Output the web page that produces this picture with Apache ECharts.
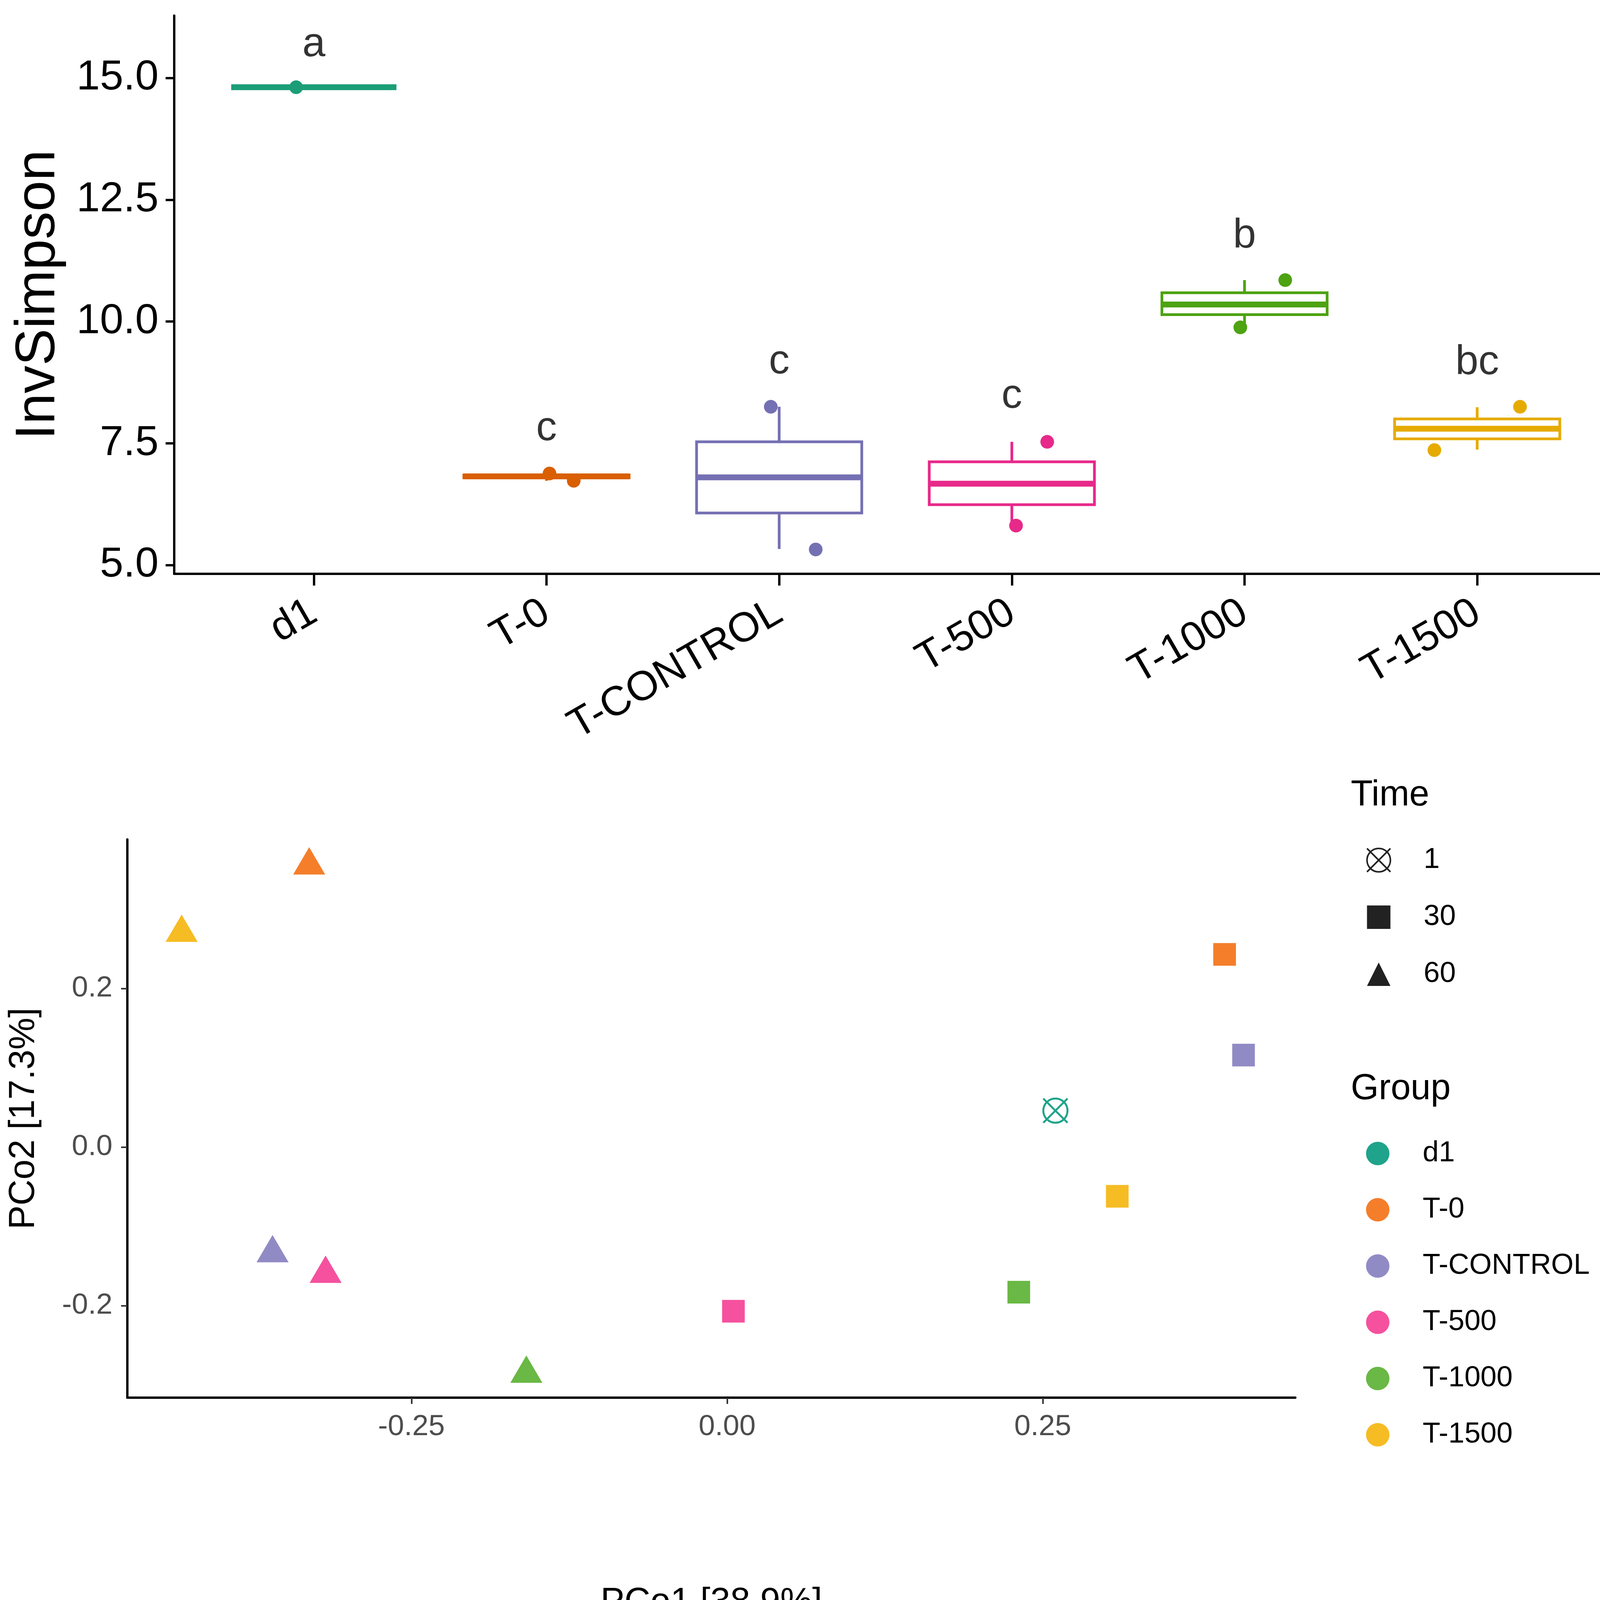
<!DOCTYPE html>
<html>
<head>
<meta charset="utf-8">
<script src="https://cdn.jsdelivr.net/npm/echarts@6/dist/echarts.min.js"></script>
<style>
  html, body { margin: 0; padding: 0; background: #fff; }
  #main { width: 4189px; height: 4180px; }
</style>
</head>
<body>
<div id="main"></div>
<script>
// ---- data: top panel (InvSimpson boxplots) ----
var groups = ['d1', 'T-0', 'T-CONTROL', 'T-500', 'T-1000', 'T-1500'];
var boxMin    = [14.81, 6.73, 5.33, 5.83, 9.88, 7.37];
var boxQ1     = [14.81, 6.79, 6.07, 6.24, 10.14, 7.59];
var boxMedian = [14.81, 6.82, 6.80, 6.67, 10.35, 7.80];
var boxQ3     = [14.81, 6.85, 7.53, 7.12, 10.59, 8.00];
var boxMax    = [14.81, 6.88, 8.25, 7.53, 10.85, 8.24];

// jittered sample points
var pointGroup  = [0, 1, 1, 2, 2, 3, 3, 4, 4, 5, 5];
var pointJitter = [-0.076, 0.013, 0.117, -0.036, 0.157, 0.152, 0.018, 0.175, -0.018, 0.184, -0.184];
var pointValue  = [14.81, 6.88, 6.73, 8.25, 5.32, 7.53, 5.81, 10.85, 9.88, 8.25, 7.36];

// significance letters
var letterText = ['a', 'c', 'c', 'c', 'b', 'bc'];
var letterY    = [15.68, 7.80, 9.17, 8.46, 11.75, 9.15];

var invTicks = [5, 7.5, 10, 12.5, 15];

// ---- data: bottom panel (PCoA) ----
var pcoGroup = ['T-0', 'T-1500', 'T-CONTROL', 'T-500', 'T-1000', 'T-500', 'T-1000', 'T-1500', 'd1', 'T-CONTROL', 'T-0'];
var pcoTime  = [60, 60, 60, 60, 60, 30, 30, 30, 1, 30, 30];
var pco1     = [-0.331, -0.432, -0.360, -0.318, -0.159, 0.005, 0.231, 0.309, 0.260, 0.409, 0.394];
var pco2     = [0.361, 0.276, -0.128, -0.154, -0.280, -0.207, -0.183, -0.062, 0.046, 0.116, 0.243];
var pco1Ticks = [-0.25, 0, 0.25];
var pco2Ticks = [-0.2, 0, 0.2];
var timeLevels = ['1', '30', '60'];

var darkColors  = ['#1B9E77', '#D95F02', '#7570B3', '#E7298A', '#4DA312', '#E6AB02'];
var lightColors = ['#1FA38A', '#F57E2A', '#918BC5', '#F5519F', '#6AB845', '#F6BC24'];

var FONT = 'Liberation Sans, Arial, sans-serif';
var crossCircle = 'path://M0,-10 A10,10 0 1,1 0,10 A10,10 0 1,1 0,-10 Z M-10,-10 L10,10 M10,-10 L-10,10';

var myChart = echarts.init(document.getElementById('main'), null, {renderer: 'canvas'});

function renderBox(params, api) {
    var x = api.value(0);
    var lo = api.coord([x, api.value(1)]);
    var q1 = api.coord([x, api.value(2)]);
    var md = api.coord([x, api.value(3)]);
    var q3 = api.coord([x, api.value(4)]);
    var hi = api.coord([x, api.value(5)]);
    var half = api.size([0.71, 0])[0] / 2;
    var c = darkColors[params.dataIndex];
    var lw = 7;
    return {
        type: 'group',
        children: [
            {type: 'line', shape: {x1: hi[0], y1: hi[1], x2: q3[0], y2: q3[1]}, style: {stroke: c, lineWidth: lw}},
            {type: 'line', shape: {x1: q1[0], y1: q1[1], x2: lo[0], y2: lo[1]}, style: {stroke: c, lineWidth: lw}},
            {type: 'rect', shape: {x: q3[0] - half, y: q3[1], width: half * 2, height: q1[1] - q3[1]},
             style: {fill: '#fff', stroke: c, lineWidth: lw}},
            {type: 'line', shape: {x1: md[0] - half, y1: md[1], x2: md[0] + half, y2: md[1]},
             style: {stroke: c, lineWidth: 15}}
        ]
    };
}

var boxData = groups.map(function (g, i) {
    return [i + 1, boxMin[i], boxQ1[i], boxMedian[i], boxQ3[i], boxMax[i]];
});

var jitterData = pointValue.map(function (v, i) {
    return {
        value: [pointGroup[i] + 1 + pointJitter[i], v],
        itemStyle: {color: darkColors[pointGroup[i]], opacity: 1}
    };
});

var letterData = letterText.map(function (t, i) {
    return {value: [i + 1, letterY[i]], name: t};
});

var series = [
    {
        type: 'custom',
        xAxisIndex: 0, yAxisIndex: 0,
        renderItem: renderBox,
        encode: {x: 0, y: [1, 2, 3, 4, 5]},
        data: boxData,
        z: 2
    },
    {
        type: 'scatter',
        xAxisIndex: 0, yAxisIndex: 0,
        symbolSize: 35,
        data: jitterData,
        z: 3
    },
    {
        type: 'scatter',
        xAxisIndex: 0, yAxisIndex: 0,
        symbolSize: 1,
        itemStyle: {color: 'rgba(0,0,0,0)'},
        label: {
            show: true, position: 'inside',
            formatter: function (p) { return p.name; },
            color: '#000', fontSize: 106, fontFamily: FONT
        },
        data: letterData,
        z: 4
    }
];

// one PCoA series per group, symbol by time
groups.forEach(function (g, gi) {
    var data = [];
    pcoGroup.forEach(function (pg, i) {
        if (pg !== g) return;
        var item = {value: [pco1[i], pco2[i]]};
        if (pcoTime[i] === 1) {
            item.symbol = crossCircle;
            item.symbolSize = 62;
            item.itemStyle = {color: 'none', borderColor: lightColors[gi], borderWidth: 5, opacity: 1};
        } else if (pcoTime[i] === 30) {
            item.symbol = 'rect';
            item.symbolSize = 58;
        } else {
            item.symbol = 'triangle';
            item.symbolSize = [82, 70];
        }
        data.push(item);
    });
    series.push({
        name: g,
        type: 'scatter',
        xAxisIndex: 1, yAxisIndex: 1,
        itemStyle: {color: lightColors[gi], opacity: 1},
        data: data
    });
});

// legend-only series for the Time shapes
timeLevels.forEach(function (t) {
    series.push({
        name: t,
        type: 'scatter',
        xAxisIndex: 1, yAxisIndex: 1,
        itemStyle: {color: '#222', opacity: 1},
        data: []
    });
});

var option = {
    backgroundColor: '#fff',
    animation: false,
    title: [
        {text: 'Time', left: 3458, top: 1991, padding: 0,
         textStyle: {fontSize: 92, fontWeight: 'normal', color: '#000', fontFamily: FONT, lineHeight: 92}},
        {text: 'Group', left: 3458, top: 2743, padding: 0,
         textStyle: {fontSize: 92, fontWeight: 'normal', color: '#000', fontFamily: FONT, lineHeight: 92}}
    ],
    legend: [
        {
            orient: 'vertical',
            left: 3497, top: 2165,
            padding: 0,
            itemWidth: 60, itemHeight: 60, itemGap: 72,
            textStyle: {fontSize: 74, color: '#000', fontFamily: FONT, lineHeight: 60, padding: [0, 0, 0, 80]},
            selectedMode: false,
            data: [
                {name: '1', icon: crossCircle, itemStyle: {color: 'none', borderColor: '#222', borderWidth: 4}},
                {name: '30', icon: 'rect'},
                {name: '60', icon: 'triangle'}
            ]
        },
        {
            orient: 'vertical',
            left: 3497, top: 2916,
            padding: 0,
            itemWidth: 60, itemHeight: 60, itemGap: 70,
            textStyle: {fontSize: 74, color: '#000', fontFamily: FONT, lineHeight: 60, padding: [0, 0, 0, 80]},
            selectedMode: false,
            icon: 'circle',
            data: groups
        }
    ],
    grid: [
        {left: 446, top: 40, width: 3693, height: 1429},
        {left: 326, top: 2149, width: 2990, height: 1429}
    ],
    xAxis: [
        {
            gridIndex: 0,
            type: 'value',
            min: 0.4, max: 6.6,
            axisLine: {lineStyle: {color: '#000', width: 6}},
            axisTick: {show: true, customValues: [1, 2, 3, 4, 5, 6], length: 30, lineStyle: {color: '#000', width: 6}},
            axisLabel: {
                customValues: [1, 2, 3, 4, 5, 6],
                rotate: 30, margin: 92,
                color: '#000', fontSize: 106, fontFamily: FONT,
                formatter: function (v) { return groups[Math.round(v) - 1]; }
            },
            splitLine: {show: false}
        },
        {
            gridIndex: 1,
            type: 'value',
            min: -0.475, max: 0.45,
            name: 'PCo1 [38.9%]', nameLocation: 'middle', nameGap: 480,
            nameTextStyle: {fontSize: 92, color: '#000', fontFamily: FONT},
            axisLine: {onZero: false, lineStyle: {color: '#000', width: 6}},
            axisTick: {show: true, customValues: pco1Ticks, length: 16, lineStyle: {color: '#333', width: 4}},
            axisLabel: {
                customValues: pco1Ticks, margin: 38,
                color: '#4D4D4D', fontSize: 75, fontFamily: FONT,
                formatter: function (v) { return v.toFixed(2); }
            },
            splitLine: {show: false}
        }
    ],
    yAxis: [
        {
            gridIndex: 0,
            type: 'value',
            min: 4.82, max: 16.28,
            name: 'InvSimpson', nameLocation: 'middle', nameGap: 275,
            nameTextStyle: {fontSize: 142, color: '#000', fontFamily: FONT},
            axisLine: {show: true, lineStyle: {color: '#000', width: 6}},
            axisTick: {show: true, customValues: invTicks, length: 22, lineStyle: {color: '#000', width: 6}},
            axisLabel: {
                customValues: invTicks, margin: 40,
                color: '#000', fontSize: 108, fontFamily: FONT,
                formatter: function (v) { return v.toFixed(1); }
            },
            splitLine: {show: false}
        },
        {
            gridIndex: 1,
            type: 'value',
            min: -0.316, max: 0.388,
            name: 'PCo2 [17.3%]', nameLocation: 'middle', nameGap: 218,
            nameTextStyle: {fontSize: 92, color: '#000', fontFamily: FONT},
            axisLine: {show: true, onZero: false, lineStyle: {color: '#000', width: 6}},
            axisTick: {show: true, customValues: pco2Ticks, length: 16, lineStyle: {color: '#333', width: 4}},
            axisLabel: {
                customValues: pco2Ticks, margin: 38,
                color: '#4D4D4D', fontSize: 75, fontFamily: FONT,
                formatter: function (v) { return v.toFixed(1); }
            },
            splitLine: {show: false}
        }
    ],
    series: series
};
myChart.setOption(option);
</script>
</body>
</html>
